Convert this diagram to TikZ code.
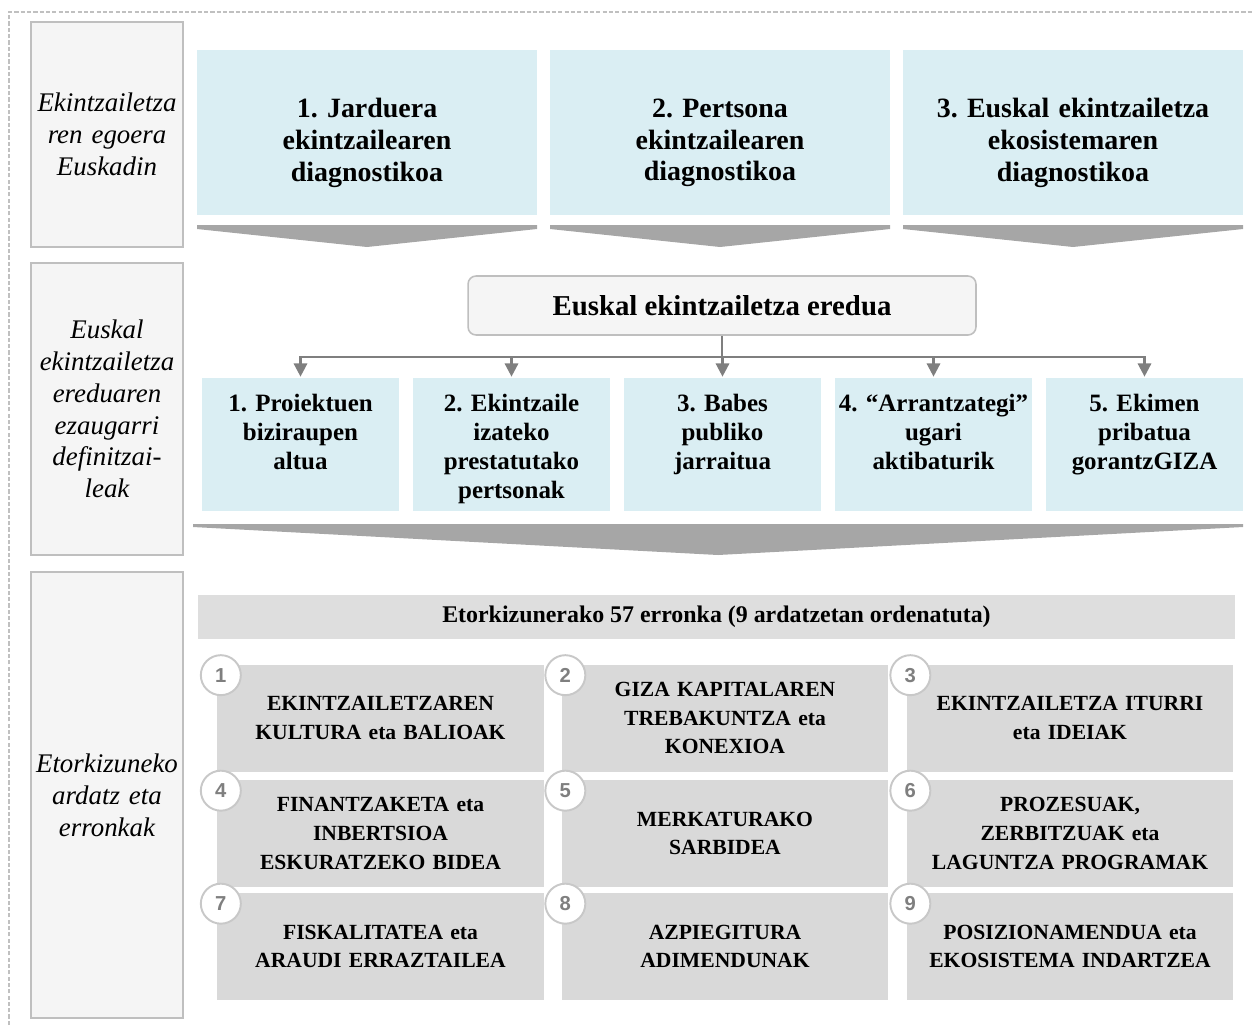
\documentclass[tikz,border=0pt]{standalone}
\usepackage{fontspec}
\setmainfont{Liberation Serif}
\newfontfamily\numfont{Liberation Sans}
\usepackage{tikz}
\usetikzlibrary{arrows.meta}
\usetikzlibrary{calc}
\usetikzlibrary{positioning}
\definecolor{diagblue}{HTML}{DAEEF3}
\definecolor{sidegray}{HTML}{F5F5F5}
\definecolor{bordgray}{HTML}{BFBFBF}
\definecolor{circgray}{HTML}{C8C8C8}
\definecolor{chevgray}{HTML}{A6A6A6}
\definecolor{axisgray}{HTML}{D9D9D9}
\definecolor{hdrgray}{HTML}{DEDEDE}
\definecolor{conngray}{HTML}{7F7F7F}
\definecolor{framegray}{HTML}{C0C0C0}
\frenchspacing

\begin{document}
\begin{tikzpicture}[x=0.02cm,y=-0.02cm,
  sidebox/.style={draw=bordgray,fill=sidegray,line width=1.1pt,minimum width=3.04cm,
    text width=3cm,align=center,inner sep=0pt,
    font=\fontsize{15.3}{18.1}\selectfont\itshape},
  diagbox/.style={fill=diagblue,minimum width=6.8cm,minimum height=3.3cm},
  diagtext/.style={text width=6.4cm,align=center,inner sep=0pt,
    font=\fontsize{15.9}{18.1}\selectfont\bfseries},
  eredubox/.style={draw=bordgray,fill=sidegray,line width=0.9pt,rounded corners=0.16cm,
    minimum width=10.16cm,minimum height=1.18cm,font=\fontsize{16.4}{19}\selectfont\bfseries},
  ezaubox/.style={fill=diagblue,minimum width=3.94cm,minimum height=2.66cm,inner sep=0pt},
  ezautext/.style={text width=3.94cm,align=center,inner sep=0pt,
    font=\fontsize{14.2}{16.4}\selectfont\bfseries},
  hdrbox/.style={fill=hdrgray,minimum width=20.74cm,minimum height=0.88cm,
    font=\fontsize{13.6}{16}\selectfont\bfseries},
  axisbox/.style={fill=axisgray,minimum width=6.5cm,minimum height=2.14cm,
    text width=6.3cm,align=center,font=\fontsize{12.3}{16.4}\selectfont\bfseries},
  numcirc/.style={circle,draw=circgray,fill=white,line width=1.1pt,minimum size=0.8cm,
    inner sep=0pt,text=conngray,font=\fontsize{11.5}{13}\numfont\bfseries},
  conn/.style={draw=conngray,line width=1.4pt},
  chev/.style={fill=chevgray}]
\useasboundingbox (0,0) rectangle (1253,1025);
%% dashed frame
\draw[framegray,line width=0.8pt,dash pattern=on 2.4pt off 1.2pt] (9,1025) -- (9,12) -- (1253,12);

\node[sidebox,minimum height=4.5cm] (s1) at (107,134.5) {Ekintzailetza\\ren egoera\\Euskadin};
\node[sidebox,minimum height=5.84cm] (s2) at (107,409) {Euskal\\ekintzailetza\\ereduaren\\ezaugarri\\definitzai-\\leak};
\node[sidebox,minimum height=8.92cm] (s3) at (107,795) {Etorkizuneko\\ardatz eta\\erronkak};

\foreach \i/\x/\txt in {1/367/{1. Jarduera\\ekintzailearen\\diagnostikoa},
    2/720/{2. Pertsona\\ekintzailearen\\diagnostikoa},
    3/1073/{3. Euskal ekintzailetza\\ekosistemaren\\diagnostikoa}}{
  \node[diagbox] (d\i) at (\x,132.5) {};
  \node[diagtext] (dt\i) at (\x,143) {\txt};
}
\foreach \x in {367,720,1073}
  \fill[chev] (\x-170,225) -- (\x+170,225) -- (\x+170,229) -- (\x,247) -- (\x-170,229) -- cycle;

\node[eredubox] (ered) at (722,305.5) {Euskal ekintzailetza eredua};

\foreach \i/\txt in {1/{1. Proiektuen\\biziraupen\\altua},
    2/{2. Ekintzaile\\izateko\\prestatutako\\pertsonak},
    3/{3. Babes\\publiko\\jarraitua},
    4/{4. ``Arrantzategi''\\ugari\\aktibaturik},
    5/{5. Ekimen\\pribatua\\gorantzGIZA}}{
  \node[ezaubox] (e\i) at ({300.5+211*(\i-1)},444.5) {};
  \node[ezautext,below=0.33cm of e\i.north] (et\i) {\txt};
}
\draw[conn] (ered.south) -- ++(0,21) coordinate (hub);
\foreach \i in {1,...,5}
  \draw[conn,-{Triangle[length=7.5pt,width=7.5pt]}] (hub) -| ($(e\i.north)+(0,-1)$);

\fill[chev] (193,524) -- (1243,524) -- (1243,527) -- (718,555) -- (193,527) -- cycle;

\node[hdrbox] (hdr) at (716.5,617) {Etorkizunerako 57 erronka (9 ardatzetan ordenatuta)};

\foreach \i/\c/\r/\txt in {1/380.5/718/{EKINTZAILETZAREN\\KULTURA eta BALIOAK},
    2/725/718/{GIZA KAPITALAREN\\TREBAKUNTZA eta\\KONEXIOA},
    3/1070/718/{EKINTZAILETZA ITURRI\\eta IDEIAK},
    4/380.5/833.5/{FINANTZAKETA eta\\INBERTSIOA\\ESKURATZEKO BIDEA},
    5/725/833.5/{MERKATURAKO\\SARBIDEA},
    6/1070/833.5/{PROZESUAK,\\ZERBITZUAK eta\\LAGUNTZA PROGRAMAK},
    7/380.5/946.5/{FISKALITATEA eta\\ARAUDI ERRAZTAILEA},
    8/725/946.5/{AZPIEGITURA\\ADIMENDUNAK},
    9/1070/946.5/{POSIZIONAMENDUA eta\\EKOSISTEMA INDARTZEA}}{
  \node[axisbox] (a\i) at (\c,\r) {\txt};
  \node[numcirc] (n\i) at ($(a\i.north west)+(4,11)$) {\i};
}
\end{tikzpicture}
\end{document}
